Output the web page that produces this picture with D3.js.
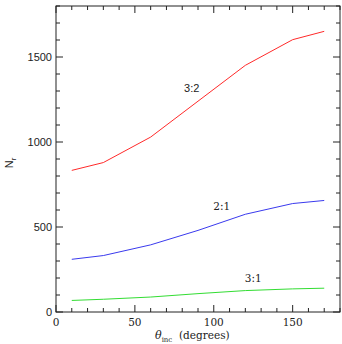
<!DOCTYPE html>
<html><head><meta charset="utf-8">
<script src="https://cdn.jsdelivr.net/npm/d3@7"></script>
<style>body{margin:0;background:#fff}svg{display:block}</style>
</head><body>
<svg id="c" width="342" height="344"></svg>
<script>
const thetaInc = [10, 30, 60, 90, 120, 150, 170];
const n32 = [833, 879, 1029, 1240, 1451, 1602, 1651];
const n21 = [310, 332, 395, 480, 575, 638, 656];
const n31 = [68, 75, 88, 108, 126, 136, 140];
const xTicks = [0, 50, 100, 150];
const yTicks = [0, 500, 1000, 1500];
const seriesNames = ["3:2", "2:1", "3:1"];
const labelPos = [[86, 1295], [105, 600], [125, 175]];

const svg = d3.select("#c");
const L = 56, R = 340, T = 6, B = 312;
const x = d3.scaleLinear().domain([0, 180]).range([L, R]);
const y = d3.scaleLinear().domain([0, 1800]).range([B, T]);
const colors = ["#ff2a2a", "#3a3aee", "#33dd33"];
const data = [n32, n21, n31];

const line = d3.line().x((d, i) => x(thetaInc[i])).y(d => y(d));
data.forEach((s, k) => {
  svg.append("path").datum(s).attr("d", line)
    .attr("fill", "none").attr("stroke", colors[k]).attr("stroke-width", 1);
});

// frame
svg.append("rect").attr("x", L).attr("y", T).attr("width", R - L).attr("height", B - T)
  .attr("fill", "none").attr("stroke", "#222").attr("stroke-width", 1);

// ticks inward
const xMinor = d3.range(0, 181, 10);
const yMinor = d3.range(0, 1801, 100);
const tk = svg.append("g").attr("stroke", "#222").attr("stroke-width", 1);
xMinor.forEach(v => {
  const len = v % 50 === 0 ? 7 : 4;
  tk.append("line").attr("x1", x(v)).attr("x2", x(v)).attr("y1", B).attr("y2", B - len);
  tk.append("line").attr("x1", x(v)).attr("x2", x(v)).attr("y1", T).attr("y2", T + len);
});
yMinor.forEach(v => {
  const len = v % 500 === 0 ? 7 : 4;
  tk.append("line").attr("y1", y(v)).attr("y2", y(v)).attr("x1", L).attr("x2", L + len);
  tk.append("line").attr("y1", y(v)).attr("y2", y(v)).attr("x1", R).attr("x2", R - len);
});

// tick labels
svg.selectAll(".xl").data(xTicks).enter().append("text")
  .attr("x", d => x(d)).attr("y", 326).attr("text-anchor", "middle")
  .attr("font-family", "DejaVu Serif").attr("font-size", 10.5).attr("fill", "#222").text(d => d);
svg.selectAll(".yl").data(yTicks).enter().append("text")
  .attr("x", 52).attr("y", d => y(d) + 4).attr("text-anchor", "end")
  .attr("font-family", "Liberation Sans").attr("font-size", 11).attr("fill", "#222").text(d => d);

// series labels
seriesNames.forEach((n, k) => {
  svg.append("text").attr("x", x(labelPos[k][0])).attr("y", y(labelPos[k][1]))
    .attr("text-anchor", "middle").attr("font-family", k === 0 ? "Liberation Sans" : "DejaVu Serif")
    .attr("font-size", k === 0 ? 11 : 10.5).attr("fill", "#222").text(n);
});

// axis titles
const xt = svg.append("text").attr("x", 155).attr("y", 339).attr("text-anchor", "start")
  .attr("font-family", "DejaVu Serif").attr("font-size", 11).attr("fill", "#222");
xt.append("tspan").attr("font-style", "italic").text("θ");
xt.append("tspan").attr("font-size", 7).attr("dy", 3).text("inc");
xt.append("tspan").attr("dy", -3).attr("font-size", 10.5)
  .attr("x", 179).text("(degrees)");

const yt = svg.append("text").attr("transform", "translate(13,163) rotate(-90)")
  .attr("text-anchor", "middle").attr("font-family", "Liberation Sans").attr("font-size", 11).attr("fill", "#222");
yt.append("tspan").text("N");
yt.append("tspan").attr("font-size", 8).attr("dy", 3).text("r");
</script>
</body></html>
